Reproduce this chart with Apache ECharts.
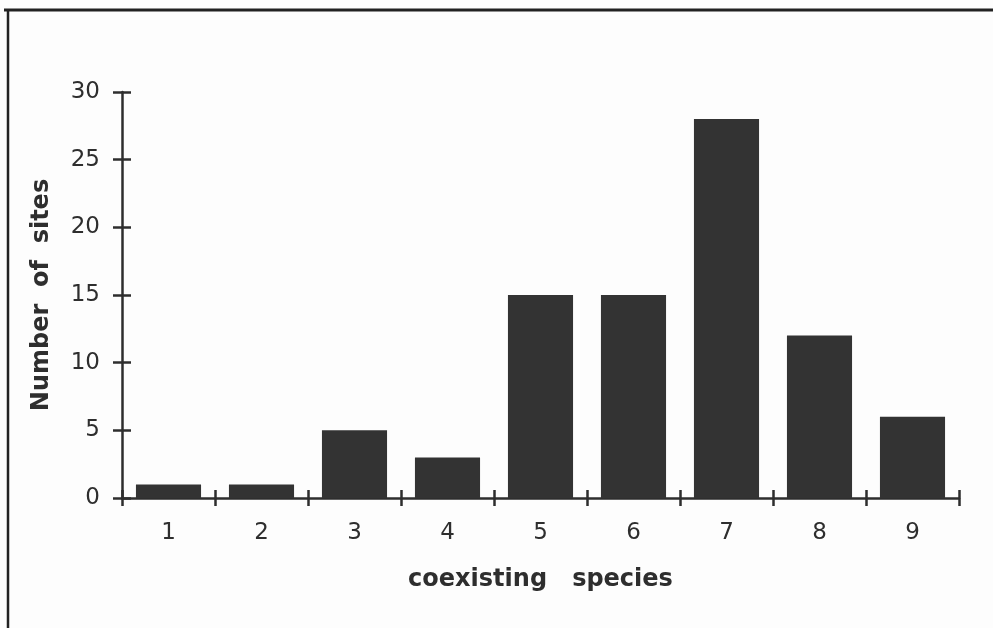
<!DOCTYPE html>
<html>
<head>
<meta charset="utf-8">
<script src="https://cdn.jsdelivr.net/npm/echarts@6/dist/echarts.min.js"></script>
<style>
  html, body { margin: 0; padding: 0; background: #fdfdfd; }
  #chart { width: 993px; height: 628px; }
</style>
</head>
<body>
<div id="chart"></div>
<script>
// Number of sites by count of coexisting species
const categories = ['1', '2', '3', '4', '5', '6', '7', '8', '9'];
const sites = [1, 1, 5, 3, 15, 15, 28, 12, 6];
const yTicks = { min: 0, max: 30, interval: 5 };

const ink = '#2e2e2e';
const font = '"DejaVu Sans", "Liberation Sans", Arial, sans-serif';

const chart = echarts.init(document.getElementById('chart'), null, { renderer: 'canvas' });

const gridBox = { left: 122, right: 34, top: 92, bottom: 130 };

chart.setOption({
  backgroundColor: '#fdfdfd',
  animation: false,
  grid: gridBox,
  xAxis: [
    {
      type: 'category',
      data: categories,
      position: 'bottom',
      axisLine: { show: true, lineStyle: { color: ink, width: 2.5 } },
      axisTick: { show: true, alignWithLabel: false, length: 8, lineStyle: { color: ink, width: 2.5 } },
      axisLabel: { color: ink, fontFamily: font, fontSize: 23, margin: 24 },
      name: 'coexisting   species',
      nameLocation: 'middle',
      nameGap: 70,
      nameTextStyle: { color: ink, fontFamily: font, fontSize: 24, fontWeight: 'bold' },
      splitLine: { show: false }
    },
    {
      // inner half of the crossing ticks
      type: 'category',
      data: categories,
      position: 'bottom',
      axisLine: { show: false },
      axisTick: { show: true, inside: true, length: 8, lineStyle: { color: ink, width: 2.5 } },
      axisLabel: { show: false },
      splitLine: { show: false }
    }
  ],
  yAxis: [
    {
      type: 'value',
      min: yTicks.min,
      max: yTicks.max,
      interval: yTicks.interval,
      axisLine: { show: true, lineStyle: { color: ink, width: 2.5 } },
      axisTick: { show: true, length: 9, lineStyle: { color: ink, width: 2.5 } },
      axisLabel: { color: ink, fontFamily: font, fontSize: 23, margin: 22 },
      splitLine: { show: false },
      name: 'Number  of  sites',
      nameLocation: 'middle',
      nameGap: 68,
      nameTextStyle: { color: ink, fontFamily: font, fontSize: 24, fontWeight: 'bold' }
    },
    {
      type: 'value',
      position: 'left',
      min: yTicks.min,
      max: yTicks.max,
      interval: yTicks.interval,
      axisLine: { show: false },
      axisTick: { show: true, inside: true, length: 9, lineStyle: { color: ink, width: 2.5 } },
      axisLabel: { show: false },
      splitLine: { show: false }
    }
  ],
  series: [
    {
      type: 'bar',
      data: sites,
      barWidth: '70%',
      itemStyle: { color: '#333333' },
      silent: true
    }
  ],
  graphic: [
    // frame lines along the top and left edges
    { type: 'line', shape: { x1: 4, y1: 10, x2: 993, y2: 10 }, style: { stroke: '#222', lineWidth: 3 } },
    { type: 'line', shape: { x1: 8, y1: 10, x2: 8, y2: 628 }, style: { stroke: '#222', lineWidth: 2.5 } }
  ]
});
</script>
</body>
</html>
